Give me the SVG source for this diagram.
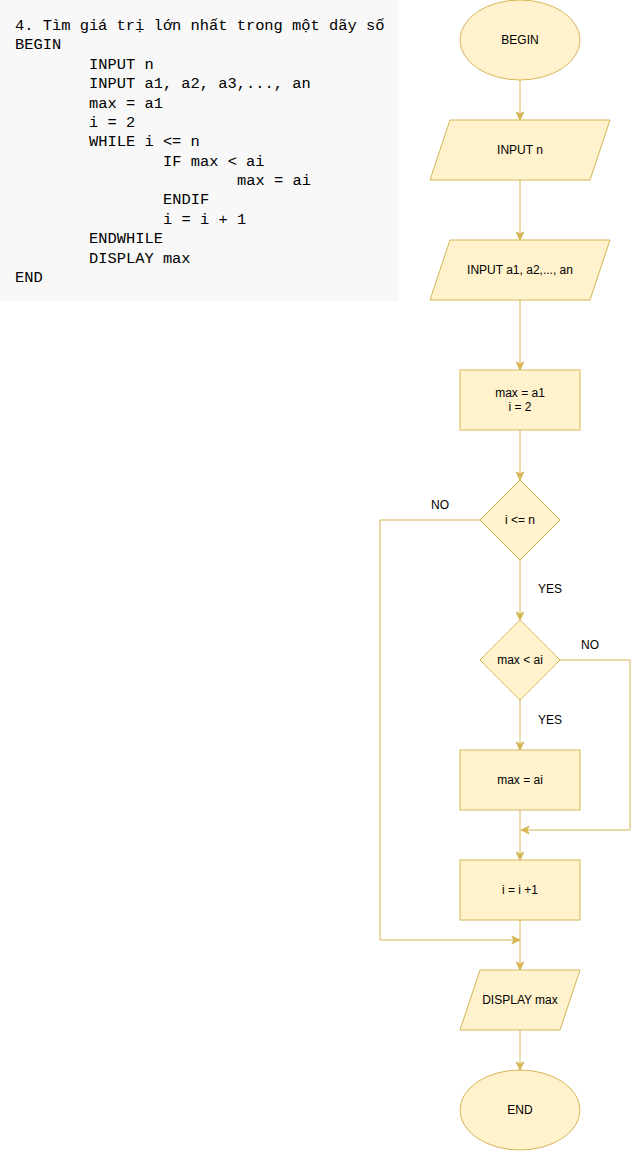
<svg xmlns="http://www.w3.org/2000/svg" width="639" height="1151" viewBox="0 0 639 1151">
<style>
.code{font-family:"Liberation Mono","DejaVu Sans Mono",monospace;font-size:15.4px;fill:#000}
.shape{fill:#fff2cc;stroke:#d6b656;stroke-width:1}
.lbl{font-family:"Liberation Sans",Arial,sans-serif;font-size:12px;fill:#000;text-anchor:middle;dominant-baseline:central}
.edge{fill:none;stroke:#d6b656;stroke-width:1}
</style>
<defs>
<marker id="arr" markerUnits="userSpaceOnUse" markerWidth="10" markerHeight="10" viewBox="0 0 10 10" refX="9" refY="5" orient="auto">
<path d="M1,1.2 L9,5 L1,8.8 L3,5 Z" fill="#d6b656" stroke="#d6b656" stroke-width="1"/>
</marker>
</defs>
<rect width="640" height="1151" fill="#ffffff"/>
<g id="code">
<rect x="0" y="0" width="399" height="301" fill="#f8f8f8"/>
<text class="code" x="15" y="30">4. Tìm giá trị lớn nhất trong một dãy số</text>
<text class="code" x="15" y="49.4">BEGIN</text>
<text class="code" x="89" y="68.8">INPUT n</text>
<text class="code" x="89" y="88.1">INPUT a1, a2, a3,..., an</text>
<text class="code" x="89" y="107.5">max = a1</text>
<text class="code" x="89" y="126.9">i = 2</text>
<text class="code" x="89" y="146.3">WHILE i &lt;= n</text>
<text class="code" x="163" y="165.7">IF max &lt; ai</text>
<text class="code" x="237" y="185">max = ai</text>
<text class="code" x="163" y="204.4">ENDIF</text>
<text class="code" x="163" y="223.8">i = i + 1</text>
<text class="code" x="89" y="243.2">ENDWHILE</text>
<text class="code" x="89" y="262.6">DISPLAY max</text>
<text class="code" x="15" y="282">END</text>
</g>
<g id="connectors">
<path class="edge" d="M520,80 V120" marker-end="url(#arr)"/>
<path class="edge" d="M520,180 V240" marker-end="url(#arr)"/>
<path class="edge" d="M520,300 V370" marker-end="url(#arr)"/>
<path class="edge" d="M520,430 V480" marker-end="url(#arr)"/>
<path class="edge" d="M520,560 V620" marker-end="url(#arr)"/>
<path class="edge" d="M480,520 H380 V940 H520" marker-end="url(#arr)"/>
<path class="edge" d="M520,700 V750" marker-end="url(#arr)"/>
<path class="edge" d="M560,660 H630 V830 H521" marker-end="url(#arr)"/>
<path class="edge" d="M520,810 V860" marker-end="url(#arr)"/>
<path class="edge" d="M520,920 V970" marker-end="url(#arr)"/>
<path class="edge" d="M520,1030 V1070" marker-end="url(#arr)"/>
<text class="lbl" x="440" y="505">NO</text>
<text class="lbl" x="550" y="589">YES</text>
<text class="lbl" x="590" y="645">NO</text>
<text class="lbl" x="550" y="720">YES</text>
</g>
<g id="begin">
<ellipse class="shape" cx="520" cy="40" rx="60" ry="40"/>
<text class="lbl" x="520" y="40">BEGIN</text>
</g>
<g id="input-n">
<polygon class="shape" points="450,120 610,120 590,180 430,180"/>
<text class="lbl" x="520" y="150">INPUT n</text>
</g>
<g id="input-a">
<polygon class="shape" points="450,240 610,240 590,300 430,300"/>
<text class="lbl" x="520" y="270">INPUT a1, a2,..., an</text>
</g>
<g id="init">
<rect class="shape" x="460" y="370" width="120" height="60"/>
<text class="lbl" x="520" y="393">max = a1</text>
<text class="lbl" x="520" y="407">i = 2</text>
</g>
<g id="cond-loop">
<polygon class="shape" points="520,480 560,520 520,560 480,520"/>
<text class="lbl" x="520" y="520">i &lt;= n</text>
</g>
<g id="cond-max">
<polygon class="shape" points="520,620 560,660 520,700 480,660"/>
<text class="lbl" x="520" y="660">max &lt; ai</text>
</g>
<g id="assign-max">
<rect class="shape" x="460" y="750" width="120" height="60"/>
<text class="lbl" x="520" y="780">max = ai</text>
</g>
<g id="increment">
<rect class="shape" x="460" y="860" width="120" height="60"/>
<text class="lbl" x="520" y="890">i = i +1</text>
</g>
<g id="display">
<polygon class="shape" points="480,970 580,970 560,1030 460,1030"/>
<text class="lbl" x="520" y="1000">DISPLAY max</text>
</g>
<g id="end">
<ellipse class="shape" cx="520" cy="1110" rx="60" ry="40"/>
<text class="lbl" x="520" y="1110">END</text>
</g>
</svg>
